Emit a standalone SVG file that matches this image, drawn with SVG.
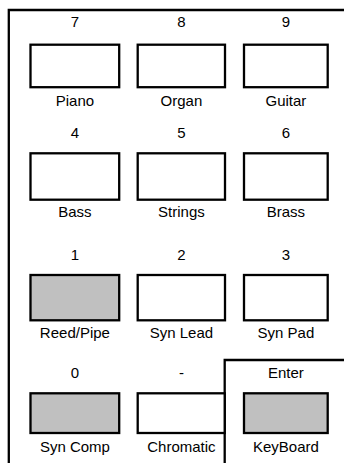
<svg xmlns="http://www.w3.org/2000/svg" width="344" height="463" viewBox="0 0 344 463">
<style>
.k{fill:#fff;stroke:#000;stroke-width:2.3}
.g{fill:#c0c0c0}
.f{fill:none;stroke:#000;stroke-width:2.3}
text{font-family:"Liberation Sans",Arial,sans-serif;font-size:15px;text-anchor:middle;fill:#000}
</style>
<rect width="344" height="463" fill="#fff"/>
<g id="frame">
<path class="f" d="M8.8,463 V10 H344"/>
<path class="f" d="M224.7,463 V360 H344"/>
</g>
<g id="k7"><text x="74.9" y="26.5">7</text><rect class="k" x="30.5" y="44.7" width="88.7" height="42.5"/><text x="74.9" y="106">Piano</text></g>
<g id="k8"><text x="181.4" y="26.5">8</text><rect class="k" x="137.7" y="44.7" width="87.3" height="42.5"/><text x="181.4" y="106">Organ</text></g>
<g id="k9"><text x="285.9" y="26.5">9</text><rect class="k" x="244" y="44.7" width="83.7" height="42.5"/><text x="285.9" y="106">Guitar</text></g>
<g id="k4"><text x="74.9" y="138.3">4</text><rect class="k" x="30.5" y="153.3" width="88.7" height="46.4"/><text x="74.9" y="217.3">Bass</text></g>
<g id="k5"><text x="181.4" y="138.3">5</text><rect class="k" x="137.7" y="153.3" width="87.3" height="46.4"/><text x="181.4" y="217.3">Strings</text></g>
<g id="k6"><text x="285.9" y="138.3">6</text><rect class="k" x="244" y="153.3" width="83.7" height="46.4"/><text x="285.9" y="217.3">Brass</text></g>
<g id="k1"><text x="74.9" y="260">1</text><rect class="k g" x="30.5" y="275" width="88.7" height="45.3"/><text x="74.9" y="338.3">Reed/Pipe</text></g>
<g id="k2"><text x="181.4" y="260">2</text><rect class="k" x="137.7" y="275" width="87.3" height="45.3"/><text x="181.4" y="338.3">Syn Lead</text></g>
<g id="k3"><text x="285.9" y="260">3</text><rect class="k" x="244" y="275" width="83.7" height="45.3"/><text x="285.9" y="338.3">Syn Pad</text></g>
<g id="k0"><text x="74.9" y="378.3">0</text><rect class="k g" x="30.5" y="393.3" width="88.7" height="39.7"/><text x="74.9" y="451.7">Syn Comp</text></g>
<g id="kdash"><text x="181.4" y="378.3">-</text><rect class="k" x="137.7" y="393.3" width="87" height="39.7"/><text x="181.4" y="451.7">Chromatic</text></g>
<g id="kenter"><text x="285.9" y="378.3">Enter</text><rect class="k g" x="244" y="393.3" width="83.7" height="39.7"/><text x="285.9" y="451.7">KeyBoard</text></g>
<g id="connectors"></g>
</svg>
